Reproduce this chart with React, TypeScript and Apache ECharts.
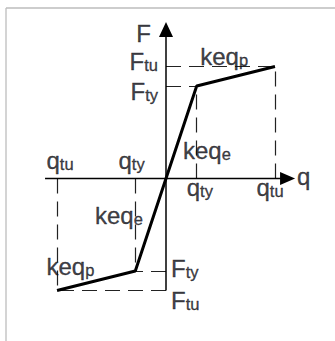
import { useEffect, useRef } from "react";
import * as echarts from "echarts";

// bilinear force–displacement law (dimensionless units)
const qty = 1; // yield displacement
const qtu = 3.55; // ultimate displacement
const Fty = 1; // yield force
const Ftu = 1.21; // ultimate force

const curveQ = [-qtu, -qty, 0, qty, qtu];
const curveF = [-Ftu, -Fty, 0, Fty, Ftu];

// drawn axis extents (ends of the q and F arrows)
const qAxisEnds = [-3.94, 3.96];
const FAxisEnds = [-Ftu, 1.61];

// visible value window
const qRange = [-5, 5];
const FRange = [-1.7, 1.7];

// projection (dashed) lines
const dashSegments: [number, number][][] = [
  [[0, Ftu], [qtu, Ftu]],
  [[0, Fty], [qty, Fty]],
  [[qty, 0], [qty, Fty]],
  [[qtu, 0], [qtu, Ftu]],
  [[0, -Ftu], [-qtu, -Ftu]],
  [[0, -Fty], [-qty, -Fty]],
  [[-qty, 0], [-qty, -Fty]],
  [[-qtu, 0], [-qtu, -Ftu]],
];

// label texts
const labelTexts = [
  "{m|F}",
  "{m|F}{s|tu}",
  "{m|F}{s|ty}",
  "{m|keq}{s|p}",
  "{m|keq}{s|e}",
  "{m|keq}{s|e}",
  "{m|keq}{s|p}",
  "{m|F}{s|ty}",
  "{m|F}{s|tu}",
  "{m|q}{s|ty}",
  "{m|q}{s|tu}",
  "{m|q}{s|tu}",
  "{m|q}{s|ty}",
  "{m|q}",
];
// label anchors in data space
const labelAnchors: [number, number][] = [
  [0, FAxisEnds[1]],
  [0, Ftu],
  [0, Fty],
  [qty, Ftu],
  [0, 0],
  [0, 0],
  [-qtu, -Ftu],
  [0, -Fty],
  [0, -Ftu],
  [qty, 0],
  [qtu, 0],
  [-qtu, 0],
  [-qty, 0],
  [qAxisEnds[1], 0],
];
// label layout (pixel offsets from anchor)
const labelLayout: { align: string; offset: [number, number] }[] = [
  { align: "right", offset: [-15, 4.3] },
  { align: "right", offset: [-8, -5.5] },
  { align: "right", offset: [-8, 5.1] },
  { align: "left", offset: [3.5, -9.8] },
  { align: "left", offset: [17, -27.7] },
  { align: "left", offset: [-71, 36.6] },
  { align: "left", offset: [-10.5, -23.6] },
  { align: "left", offset: [5, -2.7] },
  { align: "left", offset: [5, 9.7] },
  { align: "left", offset: [-10, 8.5] },
  { align: "left", offset: [-18.5, 8.5] },
  { align: "left", offset: [-10.5, -17.7] },
  { align: "left", offset: [-16.8, -17.7] },
  { align: "left", offset: [9.5, -1.7] },
];

const FONT = "Liberation Sans, Arial, sans-serif";
const TEXT = "#0d0d14";

export default function App() {
  const ref = useRef<HTMLDivElement>(null);
  useEffect(() => {
    if (!ref.current) return;
    const chart = echarts.init(ref.current, undefined, { renderer: "svg" });
    const W = 335;
    const H = 341;
    // pixel mapping: origin at (166, 178.5), 30.7 px per q unit, 92.5 px per F unit
    const ox = 166, oy = 178.5, sx = 30.7, sy = 92.5;
    const gridLeft = ox + qRange[0] * sx;
    const gridRight = W - (ox + qRange[1] * sx);
    const gridTop = oy - FRange[1] * sy;
    const gridBottom = H - (oy - FRange[0] * sy);

    const txt = (size: number) => ({
      fontSize: size,
      fontFamily: FONT,
      color: TEXT,
      verticalAlign: "bottom",
      textBorderColor: TEXT,
      textBorderWidth: 0.35,
    });

    chart.setOption({
      animation: false,
      backgroundColor: "#fff",
      grid: { left: gridLeft, right: gridRight, top: gridTop, bottom: gridBottom, containLabel: false },
      xAxis: { type: "value", min: qRange[0], max: qRange[1], show: false },
      yAxis: { type: "value", min: FRange[0], max: FRange[1], show: false },
      graphic: [
        { type: "line", shape: { x1: 6, y1: 8, x2: W, y2: 8 }, style: { stroke: "#bdbdbd", lineWidth: 1.3 }, silent: true },
        { type: "line", shape: { x1: 6, y1: 8, x2: 6, y2: H }, style: { stroke: "#bdbdbd", lineWidth: 1.3 }, silent: true },
      ],
      series: [
        {
          type: "line",
          name: "curve",
          data: curveQ.map((q, i) => [q, curveF[i]]),
          symbol: "none",
          lineStyle: { color: "#000", width: 3 },
          z: 3,
          silent: true,
          markLine: {
            silent: true,
            symbol: ["none", "none"],
            label: { show: false },
            lineStyle: { color: "#222", width: 1.2, type: [15, 8] },
            emphasis: { disabled: true },
            data: dashSegments.map(([a, b]) => [{ coord: a }, { coord: b }]),
            z: 1,
          },
        },
        {
          type: "line",
          name: "F axis",
          data: [
            { value: [0, FAxisEnds[0]], symbol: "none" },
            { value: [0, FAxisEnds[1]] },
          ],
          symbol: "path://M5,0L10,10L0,10Z",
          symbolSize: [14, 15],
          showSymbol: true,
          itemStyle: { color: "#000" },
          lineStyle: { color: "#000", width: 1.5 },
          z: 4,
          silent: true,
        },
        {
          type: "line",
          name: "q axis",
          data: [
            { value: [qAxisEnds[0], 0], symbol: "none" },
            { value: [qAxisEnds[1], 0] },
          ],
          symbol: "path://M0,0L10,5L0,10Z",
          symbolSize: [15, 13],
          showSymbol: true,
          itemStyle: { color: "#000" },
          lineStyle: { color: "#000", width: 1.5 },
          z: 4,
          silent: true,
        },
        {
          type: "scatter",
          name: "labels",
          symbolSize: 1,
          itemStyle: { color: "rgba(0,0,0,0)" },
          z: 5,
          silent: true,
          label: {
            show: true,
            position: "inside",
            verticalAlign: "middle",
            color: TEXT,
            rich: {
              m: txt(24),
              s: txt(16.5),
            },
          },
          data: labelAnchors.map((a, i) => ({
            value: a,
            label: {
              formatter: labelTexts[i],
              align: labelLayout[i].align,
              offset: labelLayout[i].offset,
            },
          })),
        },
      ],
    });
    return () => chart.dispose();
  }, []);
  return (
    <div
      ref={ref}
      style={{ position: "absolute", left: 0, top: 0, width: 335, height: 341 }}
    />
  );
}
